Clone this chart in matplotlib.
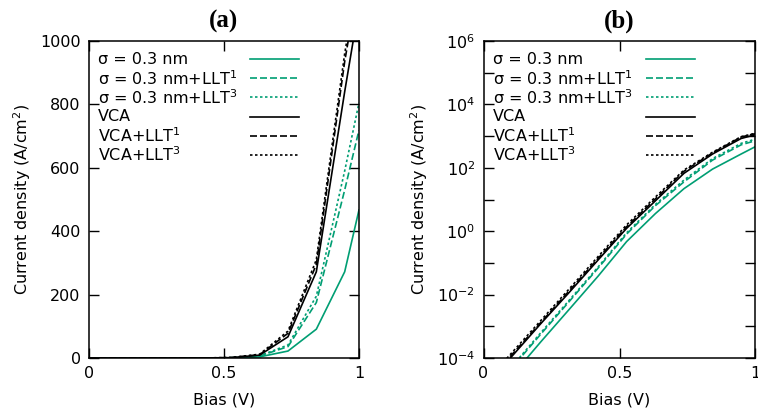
import math
import matplotlib
matplotlib.use("Agg")
import matplotlib.pyplot as plt
from matplotlib.ticker import FixedLocator, FuncFormatter

# bias points (V)
bias = [0.0, 0.105, 0.21, 0.316, 0.421, 0.526, 0.632, 0.737, 0.842, 0.947, 1.0]

# current density (A/cm^2)
j_sig = [2.5e-6, 2.8e-5, 3.2e-4, 3.5e-3, 3.8e-2, 0.47, 3.6, 22, 91, 272, 467]
j_sig_llt1 = [4.5e-6, 5.0e-5, 5.6e-4, 6.2e-3, 6.8e-2, 0.81, 6.4, 36, 175, 530, 719]
j_sig_llt3 = [4.9e-6, 5.5e-5, 6.2e-4, 6.8e-3, 7.4e-2, 0.89, 7.0, 41, 195, 590, 805]
j_vca = [1.1e-5, 1.15e-4, 1.2e-3, 1.2e-2, 0.123, 1.23, 9.1, 67, 272, 840, 1110]
j_vca_llt1 = [1.26e-5, 1.3e-4, 1.3e-3, 1.35e-2, 0.138, 1.38, 10.5, 78, 295, 935, 1200]
j_vca_llt3 = [1.45e-5, 1.5e-4, 1.5e-3, 1.55e-2, 0.158, 1.58, 12, 85, 310, 960, 1230]

labels = [r"σ = 0.3 nm", r"σ = 0.3 nm+LLT$^1$", r"σ = 0.3 nm+LLT$^3$",
          "VCA", r"VCA+LLT$^1$", r"VCA+LLT$^3$"]

green = "#009e73"
dash = (4.2, 1.8)
dot = (1.5, 1.5)
series = [
    (j_sig, green, ()),
    (j_sig_llt1, green, dash),
    (j_sig_llt3, green, dot),
    (j_vca, "black", ()),
    (j_vca_llt1, "black", dash),
    (j_vca_llt3, "black", dot),
]

plt.rcParams["font.family"] = ["DejaVu Sans"]
plt.rcParams["mathtext.fontset"] = "dejavusans"

fig = plt.figure(figsize=(7.58, 4.15), dpi=100)
ax1 = fig.add_axes([0.1174, 0.1373, 0.3562, 0.7639])
ax2 = fig.add_axes([0.6379, 0.1373, 0.3588, 0.7639])

lw = 1.2
fs = 11.5


def draw(ax):
    for (y, c, d), lab in zip(series, labels):
        ln, = ax.plot(bias, y, color=c, lw=lw)
        if d:
            ln.set_dashes(d)
    # key, gnuplot style: text left, sample right
    for k, ((y, c, d), lab) in enumerate(zip(series, labels)):
        yy = 0.943 - k * 0.0606
        ax.text(0.034, yy, lab, transform=ax.transAxes, fontsize=fs,
                va="center", ha="left")
        ln, = ax.plot([0.597, 0.778], [yy, yy], transform=ax.transAxes,
                      color=c, lw=lw)
        if d:
            ln.set_dashes(d)
    ax.set_xlim(0, 1)
    ax.set_xticks([0, 0.5, 1])
    ax.set_xticklabels(["0", "0.5", "1"])
    ax.tick_params(direction="in", length=7, width=1.0, top=True, right=True,
                   labelsize=fs, pad=6)
    for s in ax.spines.values():
        s.set_linewidth(1.1)
    ax.set_xlabel("Bias (V)", fontsize=fs, labelpad=8)
    ax.set_ylabel("Current density (A/cm$^2$)", fontsize=fs, labelpad=5)


draw(ax1)
ax1.set_ylim(0, 1000)
ax1.set_yticks([0, 200, 400, 600, 800, 1000])
ax1.set_title("(a)", fontfamily="Liberation Serif", fontweight="bold",
              fontsize=18, pad=10)

draw(ax2)
ax2.set_yscale("log")
ax2.set_ylim(1e-4, 1e6)
ax2.yaxis.set_major_locator(FixedLocator([10.0 ** e for e in range(-4, 7)]))
ax2.yaxis.set_minor_locator(FixedLocator([]))


def even_dec(v, pos):
    e = int(round(math.log10(v)))
    if e % 2:
        return ""
    return r"10$^{%d}$" % e


ax2.yaxis.set_major_formatter(FuncFormatter(even_dec))
ax2.set_title("(b)", fontfamily="Liberation Serif", fontweight="bold",
              fontsize=18, pad=10)

fig.savefig("out.png", dpi=100)
